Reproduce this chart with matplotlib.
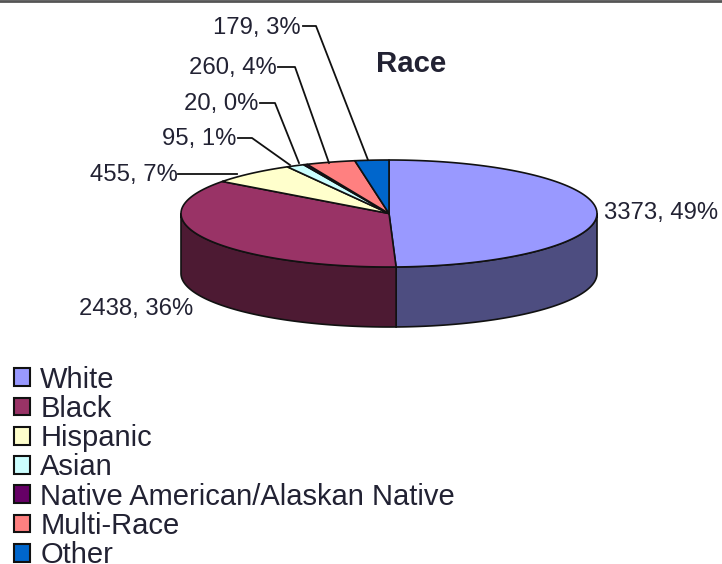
import numpy as np
import matplotlib
matplotlib.use("Agg")
import matplotlib.pyplot as plt
from matplotlib.patches import Polygon, Patch

categories = ["White", "Black", "Hispanic", "Asian",
              "Native American/Alaskan Native", "Multi-Race", "Other"]
values = [3373, 2438, 455, 95, 20, 260, 179]
percents = [49, 36, 7, 1, 0, 4, 3]
top_colors = ["#9999FF", "#993366", "#FFFFCC", "#CCFFFF", "#660066", "#FF8080", "#0066CC"]
side_colors = ["#4D4D80", "#4D1A33", "#808066", "#668080", "#330033", "#804040", "#003366"]

plt.rcParams["font.family"] = ["Liberation Sans", "DejaVu Sans"]
fig = plt.figure(figsize=(7.22, 5.64), dpi=100)
ax = fig.add_axes([0, 0, 1, 1])
ax.set_xlim(0, 722)
ax.set_ylim(564, 0)
ax.axis("off")

CX, CY, RX, RY, DEPTH = 389, 213.5, 208, 53.5, 60
TXT = "#222233"


def rim(a0, a1, dy=0):
    t = np.linspace(a0, a1, max(int(abs(a1 - a0) * 60), 2))
    return np.column_stack([CX + RX * np.sin(t), CY + dy - RY * np.cos(t)])


total = sum(values)
edges = np.concatenate([[0], np.cumsum(values)]) / total * 2 * np.pi

# side walls: only the front half of the rim (angle pi/2..3pi/2 from the top)
for i in range(len(values)):
    a0, a1 = max(edges[i], np.pi / 2), min(edges[i + 1], 3 * np.pi / 2)
    if a1 > a0:
        upper = rim(a0, a1)
        lower = rim(a0, a1, DEPTH)[::-1]
        ax.add_patch(Polygon(np.vstack([upper, lower]), closed=True,
                             fc=side_colors[i], ec="#111111", lw=1.2, zorder=2))

# top face
for i in range(len(values)):
    pts = np.vstack([[CX, CY], rim(edges[i], edges[i + 1])])
    ax.add_patch(Polygon(pts, closed=True, fc=top_colors[i], ec="#111111", lw=1.2,
                         joinstyle="round", zorder=3))

# data labels
label_pos = [(604, 213.5, "left"), (79, 309, "left"), (178, 174.5, "right"), (236, 139, "right"),
             (258, 104, "right"), (277, 68, "right"), (301, 28, "right")]
for v, p, (x, y, ha) in zip(values, percents, label_pos):
    ax.text(x, y, f"{v}, {p}%", ha=ha, va="center", fontsize=17.2, color=TXT, zorder=5)

# leader lines
leaders = [[(178, 174), (237, 174)],
           [(238, 138), (252, 138), (290, 165)],
           [(260, 103), (275, 103), (299, 163)],
           [(278, 67), (295, 67), (329, 163)],
           [(303, 26), (316, 26), (368, 160)]]
for pts in leaders:
    xs, ys = zip(*pts)
    ax.plot(xs, ys, color="#111111", lw=1.3, zorder=4)

ax.text(411, 64, "Race", ha="center", va="center", fontsize=21.2, fontweight="bold",
        color=TXT, zorder=5)

# frame line along the top of the image
ax.plot([0, 722], [0.5, 0.5], color="#555555", lw=2, zorder=6, clip_on=False)

handles = [Patch(fc=c, ec="#111111", lw=1.5) for c in top_colors]
leg = ax.legend(handles, categories, loc="lower left", bbox_to_anchor=(14 / 722, -5 / 564),
                bbox_transform=ax.transAxes, frameon=False, fontsize=21, labelcolor=TXT,
                handlelength=0.56, handleheight=0.56, handletextpad=0.34,
                labelspacing=0.042, borderpad=0, borderaxespad=0)

fig.savefig("out.png", dpi=100, facecolor="white")
